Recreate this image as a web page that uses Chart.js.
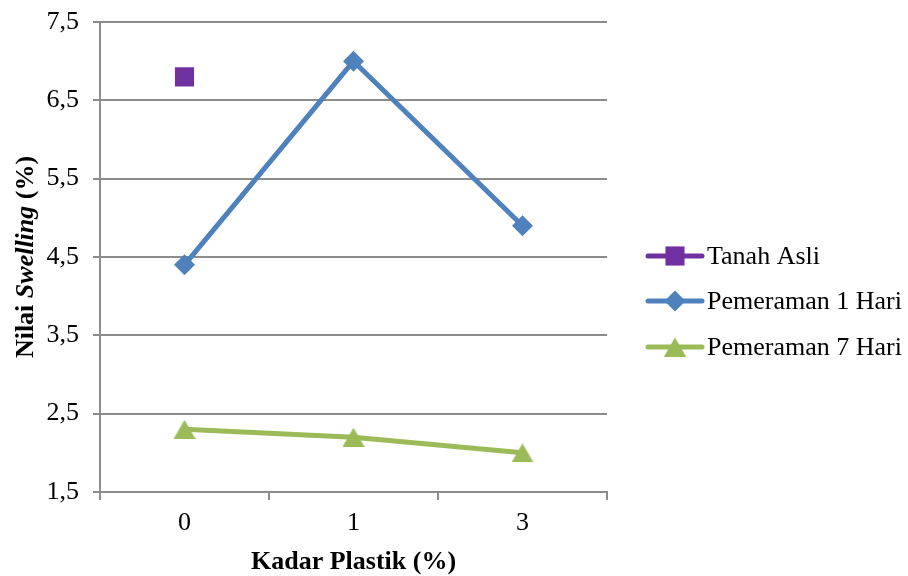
<!DOCTYPE html>
<html>
<head>
<meta charset="utf-8">
<script src="https://cdn.jsdelivr.net/npm/chart.js@4/dist/chart.umd.min.js"></script>
<style>
  html, body { margin: 0; padding: 0; background: #ffffff; }
  #wrap { width: 908px; height: 576px; position: relative; }
</style>
</head>
<body>
<div id="wrap"><canvas id="c" width="908" height="576"></canvas></div>
<script>
// Plastic content (%) on the x axis
const categories = ['0', '1', '3'];
// Swelling values (%) per series
const tanahAsli = [6.8, null, null];
const pemeraman1Hari = [4.4, 7.0, 4.9];
const pemeraman7Hari = [2.3, 2.2, 2.0];
const seriesLabels = ['Tanah Asli', 'Pemeraman 1 Hari', 'Pemeraman 7 Hari'];
// Value axis range
const yMin = 1.5, yMax = 7.5, yStep = 1;

const FONT = '"Liberation Serif", "Times New Roman", serif';
const GRID = '#8c8c8c';
const PURPLE = '#7030a0', BLUE = '#4f81bd', GREEN = '#9bbb59';

// Triangle marker whose bounding box is centred on the data point
function triangleMarker(color) {
  const cv = document.createElement('canvas');
  cv.width = 22; cv.height = 19;
  const g = cv.getContext('2d');
  g.fillStyle = color;
  g.beginPath();
  g.moveTo(11, 0); g.lineTo(22, 19); g.lineTo(0, 19); g.closePath();
  g.fill();
  return cv;
}

// Axis titles; the y title has the italic word "Swelling"
const titlesPlugin = {
  id: 'axisTitles',
  afterDraw(chart) {
    const ctx = chart.ctx;
    const parts = [
      { t: 'Nilai ', f: 'bold 26px ' + FONT },
      { t: 'Swelling', f: 'italic bold 26px ' + FONT },
      { t: ' (%)', f: 'bold 26px ' + FONT }
    ];
    let total = 0;
    parts.forEach(p => { ctx.font = p.f; p.w = ctx.measureText(p.t).width; total += p.w; });
    const cy = (chart.chartArea.top + chart.chartArea.bottom) / 2;
    ctx.save();
    ctx.translate(26, cy);
    ctx.rotate(-Math.PI / 2);
    ctx.fillStyle = '#000';
    ctx.textBaseline = 'middle';
    ctx.textAlign = 'left';
    let x = -total / 2;
    parts.forEach(p => { ctx.font = p.f; ctx.fillText(p.t, x, 0); x += p.w; });
    ctx.restore();

    ctx.save();
    ctx.font = 'bold 26px ' + FONT;
    ctx.fillStyle = '#000';
    ctx.textAlign = 'center';
    ctx.textBaseline = 'middle';
    ctx.fillText('Kadar Plastik (%)', (chart.chartArea.left + chart.chartArea.right) / 2, 562);
    ctx.restore();
  }
};

// Legend on the right: line segment with marker, then the label
const sideLegendPlugin = {
  id: 'sideLegend',
  afterDraw(chart) {
    const ctx = chart.ctx;
    const x0 = 648, x1 = 702, textX = 707;
    const ys = [256, 301, 347];
    chart.data.datasets.forEach((ds, i) => {
      const y = ys[i];
      ctx.save();
      ctx.strokeStyle = ds.borderColor;
      ctx.lineWidth = 5;
      ctx.lineCap = 'round';
      ctx.beginPath(); ctx.moveTo(x0, y); ctx.lineTo(x1, y); ctx.stroke();
      ctx.fillStyle = ds.pointBackgroundColor;
      ctx.strokeStyle = ds.pointBackgroundColor;
      Chart.helpers.drawPoint(ctx, {
        pointStyle: ds.pointStyle, radius: ds.pointRadius, borderWidth: 0, rotation: 0
      }, (x0 + x1) / 2, y);
      ctx.fillStyle = '#000';
      ctx.font = '26px ' + FONT;
      ctx.textBaseline = 'middle';
      ctx.textAlign = 'left';
      ctx.fillText(ds.label, textX, y + 1);
      ctx.restore();
    });
  }
};

new Chart(document.getElementById('c'), {
  type: 'line',
  data: {
    labels: categories,
    datasets: [
      {
        label: seriesLabels[0], data: tanahAsli,
        borderColor: PURPLE, backgroundColor: PURPLE,
        pointBackgroundColor: PURPLE, pointBorderColor: PURPLE,
        pointStyle: 'rect', pointRadius: 13.5, pointBorderWidth: 0,
        borderWidth: 5, showLine: false
      },
      {
        label: seriesLabels[1], data: pemeraman1Hari,
        borderColor: BLUE, backgroundColor: BLUE,
        pointBackgroundColor: BLUE, pointBorderColor: BLUE,
        pointStyle: 'rectRot', pointRadius: 10.5, pointBorderWidth: 0,
        borderWidth: 5, tension: 0
      },
      {
        label: seriesLabels[2], data: pemeraman7Hari,
        borderColor: GREEN, backgroundColor: GREEN,
        pointBackgroundColor: GREEN, pointBorderColor: GREEN,
        pointStyle: triangleMarker(GREEN), pointRadius: 11, pointBorderWidth: 0,
        borderWidth: 5, tension: 0
      }
    ]
  },
  options: {
    responsive: false,
    animation: false,
    devicePixelRatio: 1,
    layout: { padding: { top: 22, right: 301, left: 0, bottom: 0 } },
    plugins: { legend: { display: false }, tooltip: { enabled: false } },
    elements: { line: { borderCapStyle: 'round', borderJoinStyle: 'round' } },
    scales: {
      x: {
        type: 'category',
        offset: true,
        afterFit(scale) { scale.height = 84; scale.paddingLeft = 0; scale.paddingRight = 0; },
        grid: {
          offset: true, drawOnChartArea: false, drawTicks: true,
          tickLength: 8, color: GRID, lineWidth: 2
        },
        border: { display: true, color: GRID, width: 2 },
        ticks: { color: '#000', font: { family: FONT, size: 26 }, padding: 8 }
      },
      y: {
        min: yMin, max: yMax,
        afterFit(scale) { scale.width = 100; scale.paddingTop = 0; scale.paddingBottom = 0; },
        afterBuildTicks(scale) {
          const t = [];
          for (let v = yMin; v <= yMax + 1e-9; v += yStep) t.push({ value: +v.toFixed(2) });
          scale.ticks = t;
        },
        grid: { color: GRID, lineWidth: 2, drawTicks: true, tickLength: 7 },
        border: { display: true, color: GRID, width: 2 },
        ticks: {
          color: '#000', font: { family: FONT, size: 26 }, padding: 14,
          callback: v => v.toFixed(1).replace('.', ',')
        }
      }
    }
  },
  plugins: [titlesPlugin, sideLegendPlugin]
});
</script>
</body>
</html>
